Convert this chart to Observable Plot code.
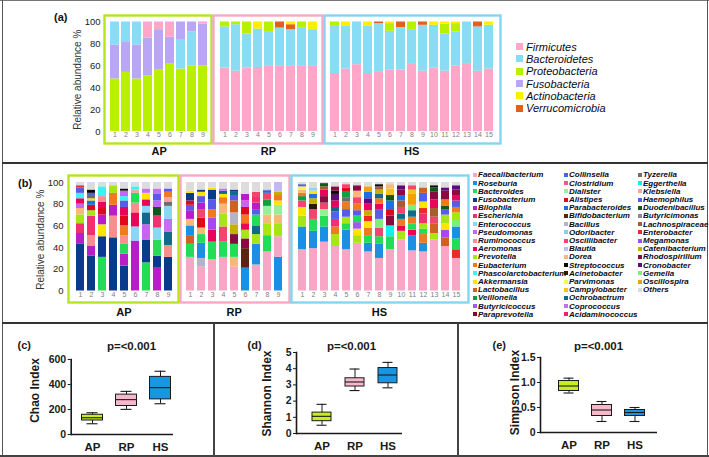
<!DOCTYPE html>
<html><head><meta charset="utf-8">
<script src="https://cdn.jsdelivr.net/npm/d3@7"></script>
<script src="https://cdn.jsdelivr.net/npm/@observablehq/plot@0.6"></script>
<style>
body{margin:0;background:#fff;font-family:"Liberation Sans",Arial,Helvetica,sans-serif;}
#fig{position:relative;width:709px;height:457px;overflow:hidden;background:#fff;}
.ln{position:absolute;background:#444;}
.lg{position:absolute;display:flex;align-items:center;white-space:nowrap;font-style:italic;color:#0a0a18;}
.lg span.sw{display:inline-block;flex:none;}
.tag{position:absolute;font-weight:bold;font-size:11px;color:#111;line-height:1;}
</style></head><body><div id="fig"></div><script>
// ---------- data ----------
const groups = ["AP", "RP", "HS"];
const groupBorder = ["#b5e61d", "#f7a8c4", "#86d5f0"];
const boxFill = ["#c6ee1e", "#f8b8cc", "#1b96de"];

const phyla = ["Firmicutes", "Bacteroidetes", "Proteobacteria", "Fusobacteria", "Actinobacteria", "Verrucomicrobia"];
const phylaColors = ["#ffa6c9", "#88dcf3", "#b9f000", "#b9a7f5", "#ffee00", "#e0601c"];

// panel (a): each sample, segments bottom -> top [phylum, %]
const phylaAP = [
 [["Proteobacteria",48],["Fusobacteria",31],["Bacteroidetes",21]],
 [["Proteobacteria",54],["Fusobacteria",28],["Bacteroidetes",18]],
 [["Proteobacteria",48],["Fusobacteria",31],["Bacteroidetes",21]],
 [["Proteobacteria",51],["Fusobacteria",34.5],["Firmicutes",14.5]],
 [["Proteobacteria",56],["Fusobacteria",37],["Firmicutes",7]],
 [["Proteobacteria",62],["Fusobacteria",24],["Firmicutes",14]],
 [["Proteobacteria",57],["Bacteroidetes",27],["Fusobacteria",16]],
 [["Proteobacteria",60],["Bacteroidetes",31],["Fusobacteria",9]],
 [["Proteobacteria",60],["Fusobacteria",38],["Firmicutes",2]]
];
const phylaRP = [
 [["Firmicutes",58],["Bacteroidetes",37.5],["Proteobacteria",4.5]],
 [["Firmicutes",55],["Bacteroidetes",42.5],["Proteobacteria",2.5]],
 [["Firmicutes",58],["Bacteroidetes",31],["Proteobacteria",11]],
 [["Firmicutes",58.5],["Bacteroidetes",35],["Actinobacteria",6.5]],
 [["Firmicutes",59.5],["Bacteroidetes",31],["Proteobacteria",9.5]],
 [["Firmicutes",59.5],["Bacteroidetes",35],["Verrucomicrobia",5.5]],
 [["Firmicutes",59.5],["Bacteroidetes",33.5],["Verrucomicrobia",4.5],["Actinobacteria",2.5]],
 [["Firmicutes",59.5],["Bacteroidetes",35.3],["Proteobacteria",5.2]],
 [["Firmicutes",59.5],["Bacteroidetes",33.5],["Actinobacteria",7]]
];
const phylaHS = [
 [["Firmicutes",53],["Bacteroidetes",43],["Proteobacteria",4]],
 [["Firmicutes",57],["Bacteroidetes",39],["Actinobacteria",4]],
 [["Firmicutes",61],["Bacteroidetes",39]],
 [["Firmicutes",53],["Bacteroidetes",43],["Actinobacteria",4]],
 [["Firmicutes",54],["Bacteroidetes",44.5],["Verrucomicrobia",1.5]],
 [["Firmicutes",56],["Bacteroidetes",35.5],["Proteobacteria",7],["Actinobacteria",1.5]],
 [["Firmicutes",56],["Bacteroidetes",39],["Verrucomicrobia",5]],
 [["Firmicutes",62],["Bacteroidetes",31],["Proteobacteria",7]],
 [["Firmicutes",55],["Bacteroidetes",42],["Verrucomicrobia",3]],
 [["Firmicutes",58],["Bacteroidetes",39],["Actinobacteria",3]],
 [["Firmicutes",55],["Bacteroidetes",34],["Proteobacteria",9],["Actinobacteria",2]],
 [["Firmicutes",60],["Bacteroidetes",31],["Proteobacteria",7.5],["Actinobacteria",1.5]],
 [["Firmicutes",62],["Bacteroidetes",38]],
 [["Firmicutes",55],["Bacteroidetes",40.5],["Verrucomicrobia",4.5]],
 [["Firmicutes",57],["Bacteroidetes",40],["Actinobacteria",3]]
];

const genera = ["Faecalibacterium","Roseburia","Bacteroides","Fusobacterium","Bilophila","Escherichia","Enterococcus","Pseudomonas","Ruminococcus","Aeromonas","Prevotella","Eubacterium","Phascolarctobacterium","Akkermansia","Lactobacillus","Veillonella","Butyricicoccus","Paraprevotella",
 "Collinsella","Clostridium","Dialister","Alistipes","Parabacteroides","Bifidobacterium","Bacillus","Odoribacter","Oscillibacter","Blautia","Dorea","Streptococcus","Acinetobacter","Parvimonas","Campylobacter","Ochrobactrum","Coprococcus","Acidaminococcus",
 "Tyzerella","Eggerthella","Klebsiella","Haemophilus","Duodenibacillus","Butyricimonas","Lachnospiraceae","Enterobacter","Megamonas","Catenibacterium","Rhodospirillum","Cronobacter","Gemella","Oscillospira","Others"];
const generaColors = ["#f9a6c6","#1a8fe3","#22dd55","#0a3a8c","#b81ec8","#f0306f","#8ad6f5","#c466f2","#f88e8e","#e8065c","#a6e612","#f07a20","#3ef0ee","#ffe400","#d2601e","#10a040","#a25af2","#7a0a28",
 "#5a5ae8","#f0559a","#96f096","#e0081a","#1f6fe0","#5a2410","#b4b4c4","#86cff2","#f2456e","#c4b8f4","#f8b878","#0a0a0a","#2a1a0a","#fff44a","#f2c21e","#106a8a","#c46ef0","#f0206a",
 "#6e6e6e","#10f0f0","#f8a4a4","#5060f0","#0e5a1a","#8c8c8c","#a85a30","#f02828","#a44af0","#c4b000","#8a0a42","#5e0a7a","#7af07a","#f4a000","#dcdcdc"];
const legendColumns = [18, 18, 15];

// panel (b): each sample, segments bottom -> top [genus, %]
const generaAP = [
 [["Fusobacterium",43],["Bilophila",10],["Escherichia",9],["Prevotella",8],["Dorea",6],["Pseudomonas",4],["Aeromonas",5],["Phascolarctobacterium",5],["Collinsella",5],["Enterobacter",2],["Others",3]],
 [["Fusobacterium",32],["Bilophila",9],["Ruminococcus",10],["Escherichia",18],["Prevotella",5],["Alistipes",5],["Parabacteroides",4],["Akkermansia",2],["Tyzerella",3],["Haemophilus",2],["Streptococcus",3],["Others",7]],
 [["Bacteroides",31],["Fusobacterium",19],["Akkermansia",11],["Bilophila",9],["Alistipes",6],["Aeromonas",6],["Ruminococcus",5],["Phascolarctobacterium",9],["Others",4]],
 [["Fusobacterium",49],["Ruminococcus",20],["Bilophila",10],["Eubacterium",11],["Prevotella",7],["Others",3]],
 [["Fusobacterium",23],["Bilophila",11],["Bacteroides",9],["Ruminococcus",8],["Eubacterium",9],["Alistipes",9],["Aeromonas",8],["Collinsella",6],["Phascolarctobacterium",4],["Pseudomonas",5],["Streptococcus",2],["Others",6]],
 [["Bilophila",46],["Enterococcus",13],["Aeromonas",13],["Ruminococcus",9],["Bacteroides",9],["Klebsiella",3],["Phascolarctobacterium",3],["Others",4]],
 [["Bacteroides",26],["Fusobacterium",21],["Pseudomonas",14],["Ochrobactrum",11],["Enterococcus",6],["Aeromonas",6],["Akkermansia",6],["Coprococcus",4],["Others",6]],
 [["Bilophila",21],["Fusobacterium",11],["Bacteroides",15],["Enterococcus",11],["Escherichia",11],["Duodenibacillus",8],["Pseudomonas",6],["Collinsella",6],["Coprococcus",5],["Others",6]],
 [["Fusobacterium",31],["Ruminococcus",11],["Ochrobactrum",12],["Coprococcus",12],["Enterococcus",12],["Tyzerella",4],["Klebsiella",4],["Eubacterium",5],["Collinsella",3],["Others",6]]
];
const generaRP = [
 [["Faecalibacterium",31],["Bacteroides",12],["Lactobacillus",8],["Roseburia",9],["Dorea",6],["Bilophila",8],["Collinsella",5],["Alistipes",4],["Fusobacterium",7],["Akkermansia",2],["Others",8]],
 [["Faecalibacterium",22],["Bacillus",8],["Roseburia",14],["Bacteroides",8],["Dorea",6],["Alistipes",9],["Oscillibacter",8],["Bilophila",6],["Collinsella",6],["Akkermansia",4],["Fusobacterium",2],["Others",7]],
 [["Faecalibacterium",29],["Bacteroides",16],["Aeromonas",11],["Megamonas",11],["Eubacterium",8],["Collinsella",9],["Fusobacterium",9],["Akkermansia",2],["Others",5]],
 [["Faecalibacterium",31],["Bacteroides",14],["Oscillibacter",14],["Prevotella",12],["Dorea",9],["Eubacterium",6],["Akkermansia",3],["Ochrobactrum",3],["Coprococcus",2],["Others",6]],
 [["Faecalibacterium",22],["Dorea",9],["Bacteroides",12],["Rhodospirillum",9],["Catenibacterium",9],["Bacillus",11],["Lactobacillus",11],["Collinsella",5],["Ochrobactrum",3],["Fusobacterium",2],["Others",7]],
 [["Roseburia",21],["Bifidobacterium",18],["Rhodospirillum",9],["Prevotella",8],["Aeromonas",6],["Eubacterium",8],["Alistipes",7],["Pseudomonas",6],["Bilophila",6],["Others",11]],
 [["Faecalibacterium",24],["Roseburia",19],["Prevotella",9],["Ochrobactrum",8],["Bacteroides",10],["Collinsella",5],["Bilophila",6],["Escherichia",6],["Oscillibacter",4],["Others",9]],
 [["Faecalibacterium",36],["Bacteroides",15],["Prevotella",11],["Dorea",8],["Dialister",8],["Veillonella",6],["Oscillibacter",6],["Parabacteroides",2],["Collinsella",1],["Others",7]],
 [["Roseburia",31],["Faecalibacterium",19],["Prevotella",12],["Dorea",8],["Dialister",9],["Akkermansia",4],["Eubacterium",5],["Catenibacterium",3],["Blautia",9]]
];
const generaHS = [
 [["Faecalibacterium",38],["Roseburia",21],["Prevotella",10],["Akkermansia",8],["Oscillibacter",6],["Veillonella",4],["Eubacterium",3],["Dorea",3],["Parvimonas",3],["Haemophilus",2],["Others",2]],
 [["Faecalibacterium",39],["Roseburia",16],["Bacteroides",11],["Oscillibacter",9],["Acinetobacter",5],["Catenibacterium",5],["Parabacteroides",4],["Akkermansia",3],["Enterococcus",3],["Others",5]],
 [["Faecalibacterium",45],["Roseburia",14],["Bacteroides",10],["Dialister",6],["Oscillibacter",6],["Rhodospirillum",6],["Aeromonas",6],["Lachnospiraceae",3],["Duodenibacillus",3],["Others",1]],
 [["Faecalibacterium",41],["Prevotella",11],["Eubacterium",7],["Escherichia",7],["Haemophilus",7],["Ochrobactrum",4],["Aeromonas",6],["Cronobacter",6],["Streptococcus",3],["Rhodospirillum",4],["Others",4]],
 [["Faecalibacterium",38],["Roseburia",18],["Bacteroides",6],["Prevotella",6],["Collinsella",7],["Eubacterium",7],["Tyzerella",4],["Veillonella",5],["Alistipes",4],["Oscillibacter",3],["Others",2]],
 [["Faecalibacterium",44],["Prevotella",7],["Akkermansia",6],["Butyricicoccus",6],["Bacteroides",6],["Collinsella",5],["Eubacterium",6],["Oscillibacter",6],["Dorea",6],["Rhodospirillum",5],["Others",3]],
 [["Faecalibacterium",36],["Roseburia",8],["Bacteroides",7],["Eubacterium",7],["Akkermansia",6],["Enterobacter",5],["Catenibacterium",5],["Aeromonas",6],["Cronobacter",5],["Parabacteroides",6],["Oscillospira",5],["Others",4]],
 [["Faecalibacterium",30],["Roseburia",13],["Bacteroides",7],["Oscillibacter",8],["Gemella",8],["Collinsella",9],["Aeromonas",5],["Eubacterium",5],["Ochrobactrum",4],["Catenibacterium",4],["Lachnospiraceae",3],["Streptococcus",2],["Others",2]],
 [["Faecalibacterium",38],["Bacteroides",12],["Eggerthella",10],["Rhodospirillum",9],["Alistipes",6],["Parabacteroides",8],["Duodenibacillus",5],["Campylobacter",6],["Dorea",4],["Others",2]],
 [["Faecalibacterium",47],["Prevotella",8],["Aeromonas",5],["Eubacterium",6],["Ochrobactrum",5],["Oscillibacter",6],["Lachnospiraceae",6],["Parabacteroides",5],["Rhodospirillum",5],["Cronobacter",4],["Others",3]],
 [["Faecalibacterium",37],["Roseburia",14],["Aeromonas",5],["Bacteroides",6],["Eubacterium",6],["Ochrobactrum",6],["Gemella",5],["Oscillospira",10],["Campylobacter",4],["Oscillibacter",4],["Others",3]],
 [["Faecalibacterium",36],["Roseburia",8],["Eubacterium",8],["Bacteroides",5],["Prevotella",5],["Escherichia",9],["Enterobacter",5],["Akkermansia",6],["Haemophilus",8],["Lactobacillus",5],["Others",5]],
 [["Faecalibacterium",47],["Prevotella",6],["Lactobacillus",9],["Oscillibacter",6],["Lachnospiraceae",8],["Aeromonas",8],["Rhodospirillum",7],["Duodenibacillus",4],["Streptococcus",2],["Others",3]],
 [["Faecalibacterium",41],["Lactobacillus",8],["Megamonas",7],["Akkermansia",6],["Prevotella",8],["Collinsella",5],["Duodenibacillus",3],["Eubacterium",6],["Rhodospirillum",8],["Cronobacter",3],["Others",5]],
 [["Faecalibacterium",30],["Enterobacter",8],["Bacteroides",10],["Roseburia",11],["Gemella",6],["Prevotella",7],["Eubacterium",5],["Collinsella",6],["Aeromonas",5],["Rhodospirillum",5],["Cronobacter",4],["Others",3]]
];

const abundanceTicks = [0, 20, 40, 60, 80, 100];

// panels (c)-(e): [min, q1, median, q3, max] for AP, RP, HS
const chaoStats = [[86,112,134,158,174],[201,228,279,319,345],[246,281,375,461,506]];
const shannonStats = [[0.51,0.76,1.06,1.29,1.8],[2.65,2.9,3.18,3.41,3.98],[2.82,3.1,3.61,4.04,4.39]];
const simpsonStats = [[0.79,0.83,0.93,1.03,1.087],[0.22,0.33,0.45,0.55,0.62],[0.22,0.33,0.40,0.45,0.50]];
const chaoTicks = [0, 200, 400, 600];
const shannonTicks = [0, 1, 2, 3, 4, 5];
const simpsonTicks = [0, 0.5, 1, 1.5];

// ---------- drawing ----------
const FONT = '"Liberation Sans", Arial, Helvetica, sans-serif';
const fig = document.getElementById("fig");
function place(node, left, top) {
  node.style.position = "absolute";
  node.style.left = left + "px";
  node.style.top = top + "px";
  fig.appendChild(node);
}
function line(x, y, w, h, c) {
  const d = document.createElement("div");
  d.className = "ln";
  Object.assign(d.style, {left: x + "px", top: y + "px", width: w + "px", height: h + "px", background: c});
  fig.appendChild(d);
}
function tag(text, x, y, size) {
  const d = document.createElement("div");
  d.className = "tag"; d.textContent = text;
  d.style.left = x + "px"; d.style.top = y + "px";
  if (size) d.style.fontSize = size + "px";
  fig.appendChild(d);
}

function stackGroup(o) {
  const n = o.bars.length;
  const rows = o.bars.flatMap((segs, i) => segs.map(([taxon, value]) => ({sample: String(i + 1), taxon, value})));
  const svgLeft = o.svgLeft ?? (o.box[0] - 3);
  const svgRight = o.box[1] + 3;
  const marginLeft = o.region[0] - svgLeft;
  const marginRight = svgRight - o.region[1];
  const marginTop = o.y100 - o.top;
  const marginBottom = o.top + o.height - o.y0;
  const marks = [
    Plot.barY(rows, {x: "sample", y: "value", fill: "taxon"}),
    Plot.frame({stroke: o.boxColor, strokeWidth: 2.4,
      insetLeft: o.box[0] - o.region[0], insetRight: o.region[1] - o.box[1],
      insetTop: o.box[2] - o.y100, insetBottom: o.y0 - o.box[3]}),
    Plot.axisX({tickSize: 0, tickPadding: 1, fontSize: 7, color: "#808080", label: null}),
    Plot.text([o.label], {frameAnchor: "bottom", dy: o.labelY - o.y0, textAnchor: "middle", lineAnchor: "middle", fontSize: 11, fontWeight: "bold", fill: "#111"})
  ];
  if (o.axis) {
    marks.push(Plot.axisY({ticks: abundanceTicks, tickSize: 0, tickPadding: o.region[0] - o.axis.tickRight, fontSize: 9.5, color: "#222", label: null}));
    marks.push(Plot.text([o.axis.title], {frameAnchor: "left", rotate: -90, dx: o.axis.titleX - o.region[0], dy: o.axis.titleDy,
      textAnchor: "middle", lineAnchor: "middle", fontSize: 10, fill: "#333"}));
  }
  const svg = Plot.plot({
    width: svgRight - svgLeft, height: o.height, marginLeft, marginRight, marginTop, marginBottom,
    style: {fontFamily: FONT, background: "none", overflow: "visible"},
    x: {type: "band", domain: d3.range(1, n + 1).map(String), padding: o.padding, label: null},
    y: o.axis ? {domain: [0, 100], label: null} : {domain: [0, 100], label: null, axis: null},
    color: {domain: o.names, range: o.colors},
    marks
  });
  place(svg, svgLeft, o.top);
}

function htmlLegend(names, colors, cols, o) {
  let k = 0;
  cols.forEach((count, c) => {
    for (let r = 0; r < count; r++, k++) {
      const d = document.createElement("div");
      d.className = "lg";
      Object.assign(d.style, {left: o.x[c] + "px", top: (o.y - o.row / 2 + r * o.row) + "px", height: o.row + "px", fontSize: o.font + "px", fontWeight: o.weight || "normal"});
      const s = document.createElement("span");
      s.className = "sw";
      Object.assign(s.style, {width: o.sw + "px", height: o.sw + "px", background: colors[k], marginRight: o.gap + "px"});
      const t = document.createElement("span");
      t.textContent = names[k];
      d.append(s, t);
      fig.appendChild(d);
    }
  });
}

function boxPanel(o) {
  const top = 323, height = 132;
  const rows = groups.map((g, i) => {
    const [min, q1, median, q3, max] = o.stats[i];
    return {group: g, min, q1, median, q3, max};
  });
  const marginLeft = o.axisX - o.left;
  const marginRight = o.right - o.axisEnd;
  const marginTop = o.yTopPx - top;
  const marginBottom = top + height - o.y0Px;
  const at = (ax, ay) => ({frameAnchor: "top-left", dx: ax - o.axisX, dy: ay - o.yTopPx, lineAnchor: "middle"});
  const ink = "#1a1a1a";
  const marks = [
    Plot.ruleX(rows, {x: "group", y1: "min", y2: "max", stroke: ink, strokeWidth: 1}),
    Plot.tickY(rows, {x: "group", y: "min", insetLeft: o.cap, insetRight: o.cap, stroke: ink, strokeWidth: 1.1}),
    Plot.tickY(rows, {x: "group", y: "max", insetLeft: o.cap, insetRight: o.cap, stroke: ink, strokeWidth: 1.1}),
    Plot.barY(rows, {x: "group", y1: "q1", y2: "q3", fill: "group", stroke: ink, strokeWidth: 1, insetLeft: o.box, insetRight: o.box}),
    Plot.tickY(rows, {x: "group", y: "median", insetLeft: o.box, insetRight: o.box, stroke: ink, strokeWidth: 1.1}),
    Plot.frame({anchor: "left", stroke: ink, strokeWidth: 1.6}),
    Plot.ruleY([o.domain[0]], {stroke: ink, strokeWidth: 1.6}),
    Plot.axisY({ticks: o.ticks, tickFormat: o.tickFormat, tickSize: 3, tickPadding: 2, fontSize: 10.5, fontWeight: "bold", color: ink, label: null}),
    Plot.axisX({tickSize: 0, tickPadding: 8, fontSize: 11.5, fontWeight: "bold", color: ink, label: null}),
    Plot.text([o.title], {...at(o.titleX, o.titleY), textAnchor: "middle", rotate: -90, fontSize: 12, fontWeight: "bold", fill: ink}),
    Plot.text([o.letter], {...at(o.letterX, 345), textAnchor: "start", fontSize: 11, fontWeight: "bold", fill: ink}),
    Plot.text(["p=<0.001"], {...at(o.pX, 346), textAnchor: "middle", fontSize: 11.5, fontWeight: "bold", fill: ink})
  ];
  const svg = Plot.plot({
    width: o.right - o.left, height, marginLeft, marginRight, marginTop, marginBottom,
    style: {fontFamily: FONT, background: "none", overflow: "visible"},
    x: {domain: groups, padding: 0, insetLeft: o.xInset[0], insetRight: o.xInset[1], label: null},
    y: {domain: [o.domain[0], o.domain[1]], label: null},
    color: {domain: groups, range: boxFill},
    marks
  });
  place(svg, o.left, top);
}

// panel frame lines
line(0, 0, 709, 1.3, "#777");
line(2, 0, 1.3, 457, "#555");
line(706.5, 0, 1.3, 457, "#555");
line(0, 455.2, 709, 1.6, "#444");
line(2, 162.3, 706, 2, "#333");
line(2, 322, 706, 2, "#333");
line(213.3, 323, 1.5, 133, "#444");
line(457.3, 323, 1.5, 133, "#444");

// ----- panel (a) -----
tag("(a)", 54, 12);
const aSpec = [
  {bars: phylaAP, box: [104, 211, 15, 143], region: [106.7, 210.5], svgLeft: 55,
   axis: {tickRight: 100, title: "Relative abundance %", titleX: 77.5, titleDy: 3}},
  {bars: phylaRP, box: [213, 322, 15, 143], region: [216.8, 319.2]},
  {bars: phylaHS, box: [323.5, 499.5, 15, 143], region: [324.5, 497]}
];
aSpec.forEach((s, i) => stackGroup({...s, top: 0, height: 160, y100: 21.5, y0: 131,
  boxColor: groupBorder[i], label: groups[i], labelY: 151, padding: 0.22, names: phyla, colors: phylaColors}));
htmlLegend(phyla, phylaColors, [6], {x: [516], y: 46.7, row: 12.3, sw: 7, gap: 3, font: 11});

// ----- panel (b) -----
tag("(b)", 18, 178);
const bSpec = [
  {bars: generaAP, box: [68, 178, 175, 302], region: [71.2, 175.8], svgLeft: 10,
   axis: {tickRight: 63, title: "Relative abundance %", titleX: 40, titleDy: 3}},
  {bars: generaRP, box: [180, 289, 175, 302], region: [181.7, 285.8]},
  {bars: generaHS, box: [291, 468, 175, 302], region: [293.3, 464.7]}
];
bSpec.forEach((s, i) => stackGroup({...s, top: 165, height: 155, y100: 182, y0: 290.5,
  boxColor: groupBorder[i], label: groups[i], labelY: 312, padding: 0.3, names: genera, colors: generaColors}));
htmlLegend(genera, generaColors, legendColumns, {x: [472.5, 563.5, 637.5], y: 175, row: 8.2, sw: 4, gap: 1.5, font: 8, weight: 600});

// ----- panels (c), (d), (e) -----
boxPanel({stats: chaoStats, left: 3, right: 213, axisX: 70.7, axisEnd: 173, yTopPx: 359, y0Px: 434,
  domain: [0, 600], ticks: chaoTicks, xInset: [4.3, -4], box: 6.5, cap: 11.5,
  title: "Chao Index", titleX: 35, titleY: 390, letter: "(c)", letterX: 17, pX: 131});
boxPanel({stats: shannonStats, left: 215, right: 457, axisX: 296, axisEnd: 402, yTopPx: 352, y0Px: 433,
  domain: [0, 5], ticks: shannonTicks, tickFormat: d => String(d), xInset: [8.5, -3], box: 7, cap: 11.5,
  title: "Shannon Index", titleX: 267, titleY: 393, letter: "(d)", letterX: 247, pX: 351});
boxPanel({stats: simpsonStats, left: 459, right: 706, axisX: 540, axisEnd: 657, yTopPx: 357, y0Px: 432,
  domain: [0, 1.5], ticks: simpsonTicks, tickFormat: d => d === 0 ? "0" : d.toFixed(1), xInset: [11.5, 6.5], box: 6.5, cap: 11.5,
  title: "Simpson Index", titleX: 515, titleY: 392, letter: "(e)", letterX: 492, pX: 598});
</script></body></html>
